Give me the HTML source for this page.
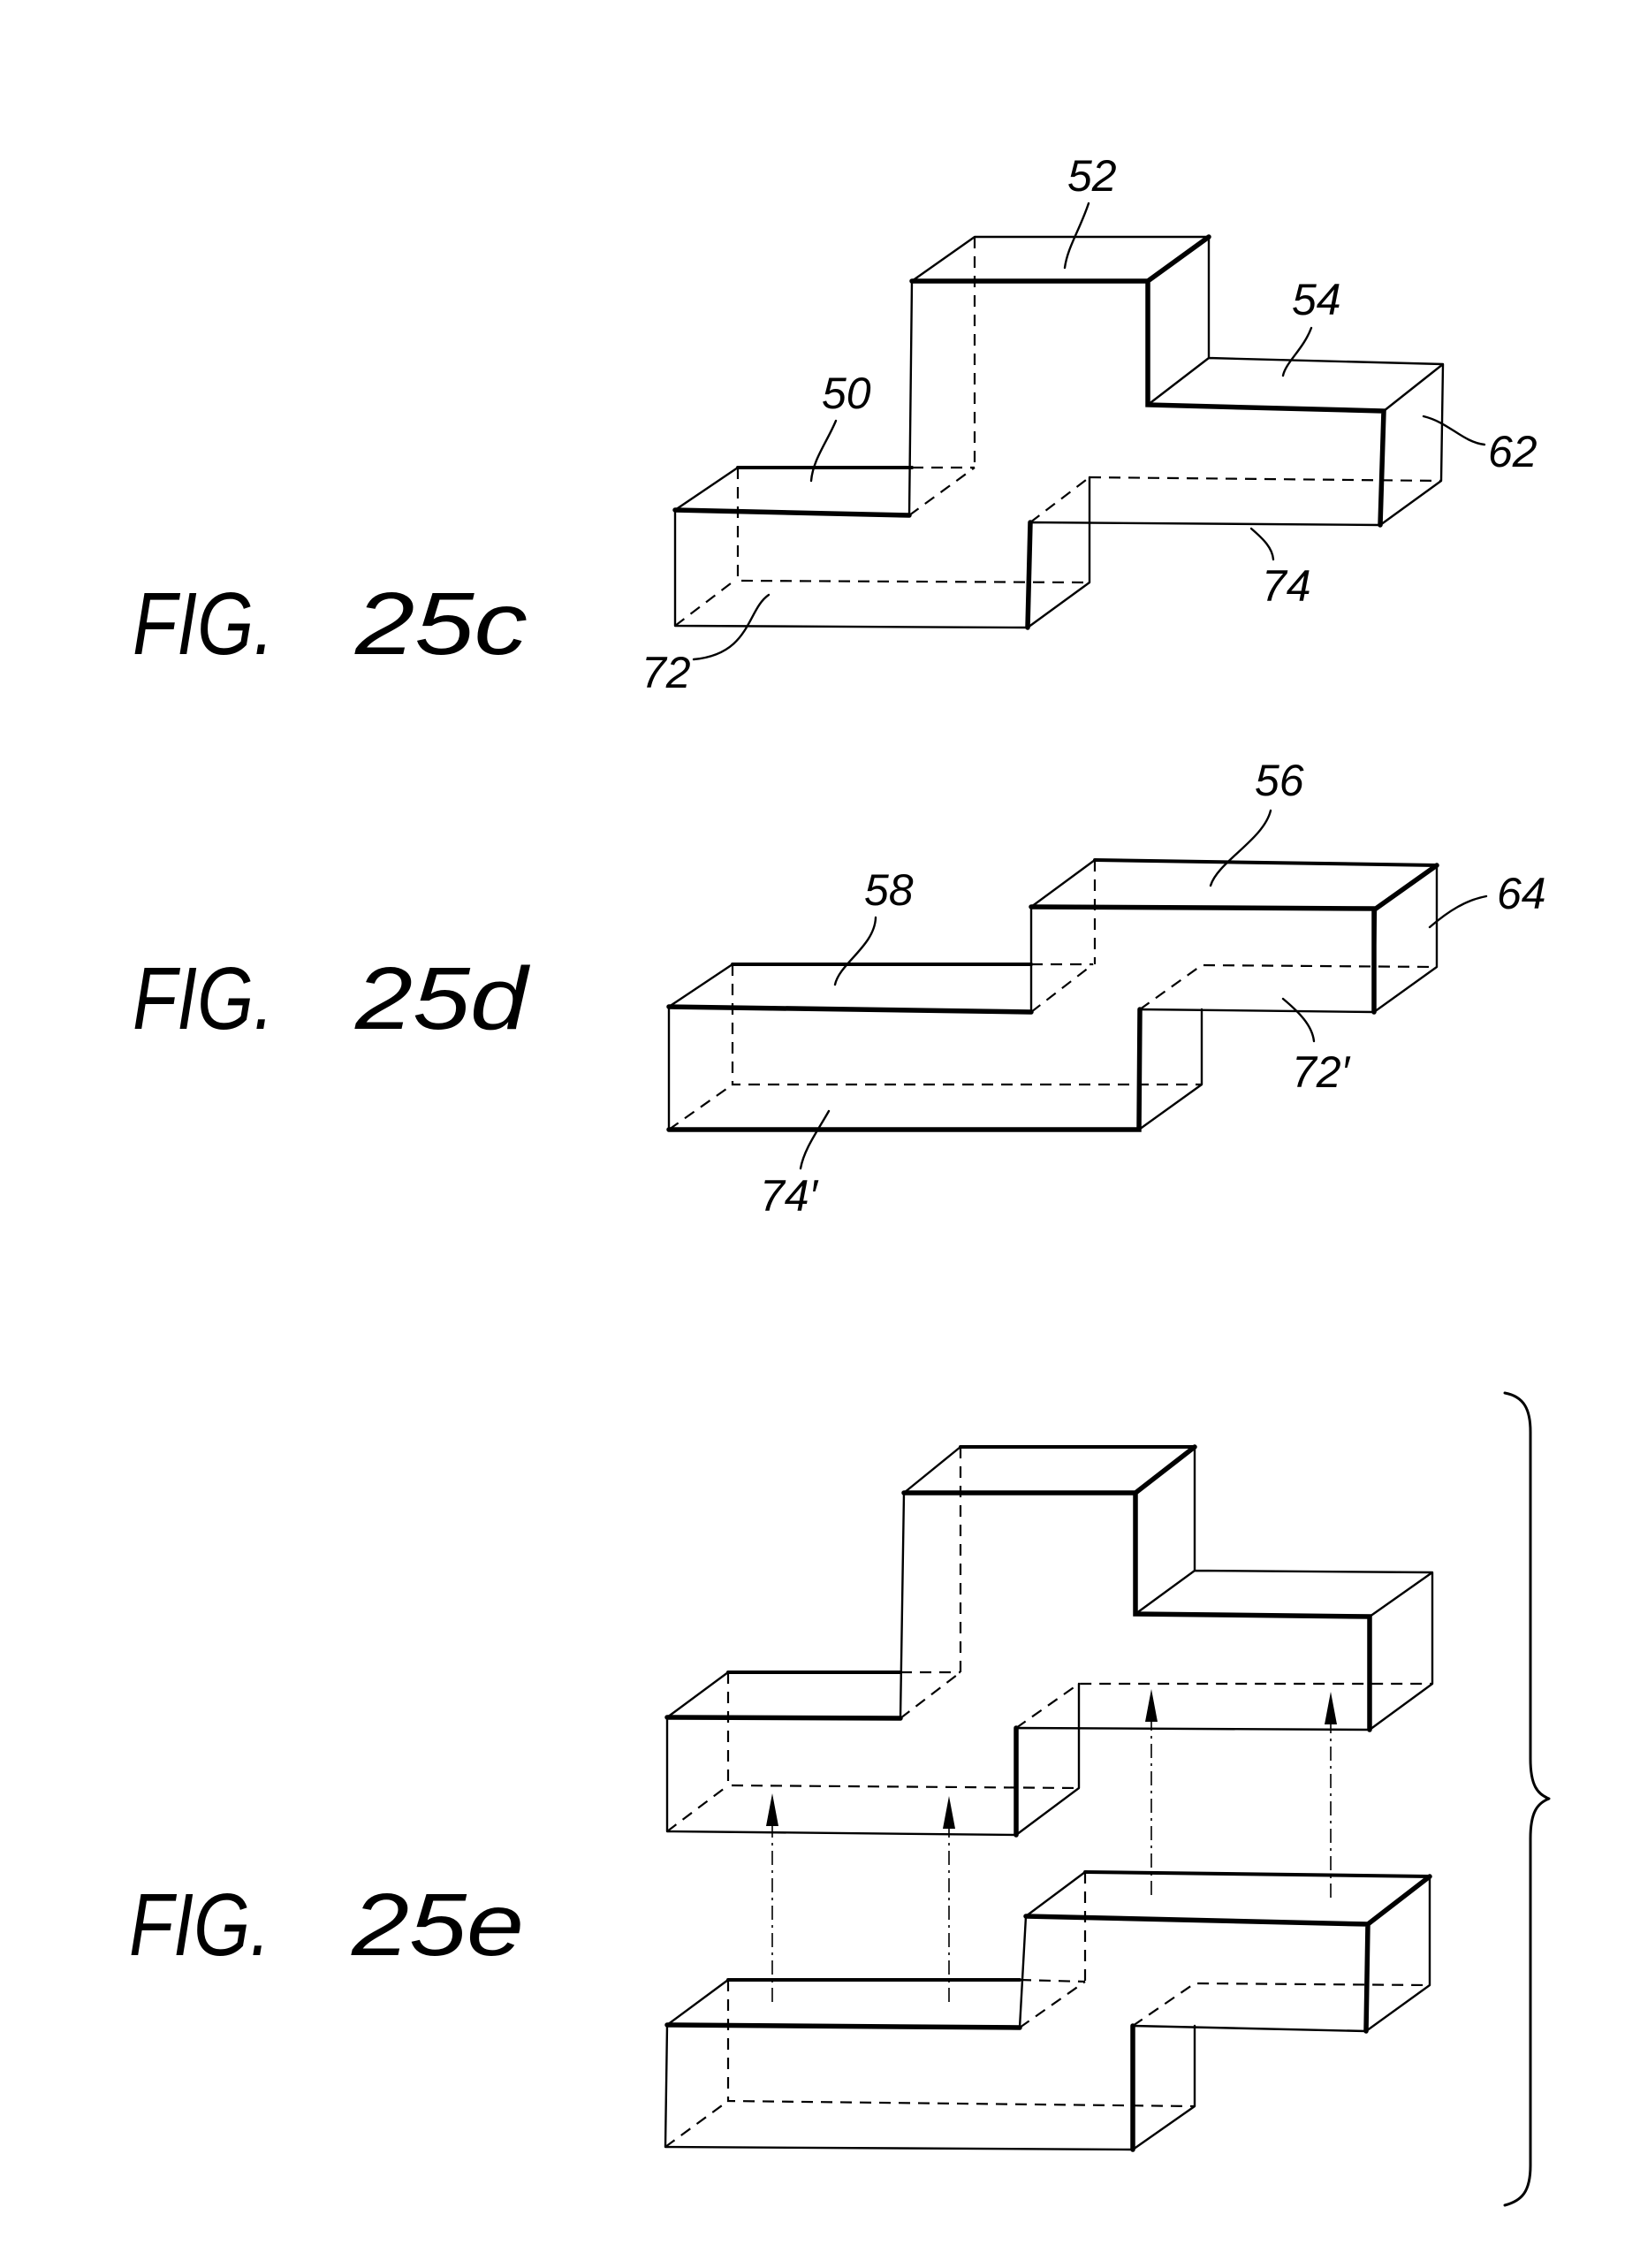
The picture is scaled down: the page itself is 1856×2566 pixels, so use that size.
<!DOCTYPE html>
<html><head><meta charset="utf-8"><style>
html,body{margin:0;padding:0;background:#fff;}
svg{display:block;}
text{font-family:"Liberation Sans",sans-serif;font-style:italic;fill:#000;}
.t{stroke:#000;stroke-width:2.4;fill:none;stroke-linejoin:round;stroke-linecap:round;}
.k{stroke:#000;stroke-width:5.5;fill:none;stroke-linecap:round;}
.d{stroke:#000;stroke-width:2.2;fill:none;stroke-dasharray:13 9;}
.dd{stroke:#000;stroke-width:1.6;fill:none;stroke-dasharray:16 6 3 6;}
.lab{font-size:50px;}
.fig{font-size:100px;}
</style></head><body>
<svg width="1856" height="2566" viewBox="0 0 1856 2566" xmlns="http://www.w3.org/2000/svg">
<rect width="1856" height="2566" fill="#fff"/>

<!-- FIG 25c -->
<g>
<path class="t" d="M764,577 L1029,583 L1032,318 L1299,318 L1299,458 L1566,465 L1562,594 L1166,591 L1163,710 L764,708 Z"/>
<path class="k" d="M764,577 L1029,583 M1032,318 L1299,318 L1368,268 M1299,318 L1299,458 L1566,465 L1562,594 M1166,591 L1163,710"/>
<path class="t" d="M764,577 L835,529 L1032,529 M1032,318 L1103,268 L1368,268 L1368,405 L1299,458 M1368,405 L1633,412 L1566,465 M1633,412 L1631,544 L1562,594 M1163,710 L1233,659 L1233,540"/>
<path class="k" style="stroke-width:4" d="M835,529 L1032,529"/>
<path class="d" d="M835,529 L835,657 L1233,659 M764,708 L831,657 M1233,540 L1631,544 M1166,591 L1233,540 M1103,268 L1103,529 M1032,529 L1103,529 M1029,583 L1103,529"/>
<text class="lab" x="1208" y="216">52</text>
<path class="t" d="M1232,230 C1222,260 1208,280 1205,303"/>
<text class="lab" x="1462" y="356">54</text>
<path class="t" d="M1484,371 C1475,395 1455,410 1452,425"/>
<text class="lab" x="930" y="462">50</text>
<path class="t" d="M946,476 C936,500 920,520 918,544"/>
<text class="lab" x="1684" y="528">62</text>
<path class="t" d="M1611,471 C1640,478 1655,500 1680,503"/>
<text class="lab" x="1428" y="680">74</text>
<path class="t" d="M1416,598 C1430,610 1440,620 1441,633"/>
<text class="lab" x="726" y="778">72</text>
<path class="t" d="M870,673 C845,690 850,740 785,746"/>
<text class="fig" x="150" y="740" textLength="160" lengthAdjust="spacingAndGlyphs">FIG.</text>
<text class="fig" x="402" y="740" textLength="195" lengthAdjust="spacingAndGlyphs">25c</text>
</g>

<!-- FIG 25d -->
<g>
<path class="t" d="M757,1139 L1167,1145 L1167,1026 L1557,1028 L1555,1145 L1290,1142 L1289,1278 L757,1278 Z"/>
<path class="k" d="M757,1139 L1167,1145 M1167,1026 L1557,1028 L1626,979 M1555,1028 L1555,1145 M1290,1142 L1289,1278 L757,1278"/>
<path class="t" d="M757,1139 L829,1091 L1167,1091 M1167,1026 L1239,973 L1626,979 L1626,1094 L1555,1145 M1289,1278 L1360,1227 L1360,1142"/>
<path class="k" style="stroke-width:4" d="M829,1091 L1167,1091 M1239,973 L1626,979"/>
<path class="d" d="M829,1091 L829,1227 L1360,1227 M757,1278 L829,1227 M1167,1091 L1237,1091 M1239,973 L1239,1091 M1167,1145 L1237,1091 M1290,1142 L1360,1092 L1626,1094"/>
<text class="lab" x="1420" y="900">56</text>
<path class="t" d="M1438,917 C1430,950 1378,975 1370,1002"/>
<text class="lab" x="978" y="1024">58</text>
<path class="t" d="M991,1038 C990,1070 950,1090 945,1114"/>
<text class="lab" x="1694" y="1028">64</text>
<path class="t" d="M1682,1014 C1660,1018 1640,1030 1618,1049"/>
<text class="lab" x="1462" y="1230">72′</text>
<path class="t" d="M1452,1130 C1470,1145 1485,1160 1487,1178"/>
<text class="lab" x="860" y="1370">74′</text>
<path class="t" d="M938,1257 C925,1280 910,1300 906,1322"/>
<text class="fig" x="150" y="1164" textLength="160" lengthAdjust="spacingAndGlyphs">FIG.</text>
<text class="fig" x="402" y="1164" textLength="195" lengthAdjust="spacingAndGlyphs">25d</text>
</g>

<!-- FIG 25e upper -->
<g>
<path class="t" d="M755,1943 L1019,1944 L1023,1689 L1285,1689 L1285,1826 L1550,1829 L1550,1957 L1150,1955 L1150,2076 L755,2072 Z"/>
<path class="k" d="M755,1943 L1019,1944 M1023,1689 L1285,1689 L1352,1637 M1285,1689 L1285,1826 L1550,1829 L1550,1957 M1150,1955 L1150,2076"/>
<path class="t" d="M755,1943 L824,1892 L1019,1892 M1023,1689 L1087,1637 L1352,1637 L1352,1777 L1285,1826 M1352,1777 L1621,1779 L1550,1829 M1621,1779 L1621,1905 L1550,1957 M1150,2076 L1221,2023 L1221,1905"/>
<path class="k" style="stroke-width:4" d="M824,1892 L1019,1892 M1087,1637 L1352,1637"/>
<path class="d" d="M824,1892 L824,2020 L1221,2023 M755,2072 L824,2020 M1019,1892 L1087,1892 M1087,1637 L1087,1892 M1019,1944 L1087,1892 M1150,1955 L1221,1905 L1621,1905"/>
</g>
<!-- FIG 25e lower -->
<g>
<path class="t" d="M755,2291 L1154,2294 L1161,2168 L1548,2177 L1546,2298 L1282,2292 L1282,2432 L753,2429 Z"/>
<path class="k" d="M755,2291 L1154,2294 M1161,2168 L1548,2177 L1618,2123 M1548,2177 L1546,2298 M1282,2292 L1282,2432"/>
<path class="t" d="M755,2291 L824,2240 L1154,2240 M1161,2168 L1228,2118 L1618,2123 L1618,2246 L1546,2298 M1282,2432 L1352,2383 L1352,2292"/>
<path class="k" style="stroke-width:4" d="M824,2240 L1154,2240 M1228,2118 L1618,2123"/>
<path class="d" d="M824,2240 L824,2377 L1352,2383 M753,2429 L824,2377 M1154,2240 L1228,2242 M1228,2118 L1228,2242 M1154,2294 L1228,2242 M1282,2292 L1352,2244 L1618,2246"/>
</g>
<!-- arrows -->
<path class="dd" d="M874,2265 L874,2060 M1074,2265 L1074,2062 M1303,2144 L1303,1940 M1506,2147 L1506,1943"/>
<path d="M874,2029 L867,2066 L881,2066 Z M1074,2032 L1067,2069 L1081,2069 Z M1303,1911 L1296,1948 L1310,1948 Z M1506,1914 L1499,1951 L1513,1951 Z" fill="#000"/>
<!-- bracket -->
<path class="t" style="stroke-width:3" d="M1703,1576 C1725,1580 1732,1595 1732,1620 L1732,1990 C1732,2020 1740,2030 1753,2035 C1740,2040 1732,2050 1732,2080 L1732,2450 C1732,2480 1722,2490 1703,2495"/>
<text class="fig" x="146" y="2212" textLength="160" lengthAdjust="spacingAndGlyphs">FIG.</text>
<text class="fig" x="398" y="2212" textLength="195" lengthAdjust="spacingAndGlyphs">25e</text>
</svg>
</body></html>
